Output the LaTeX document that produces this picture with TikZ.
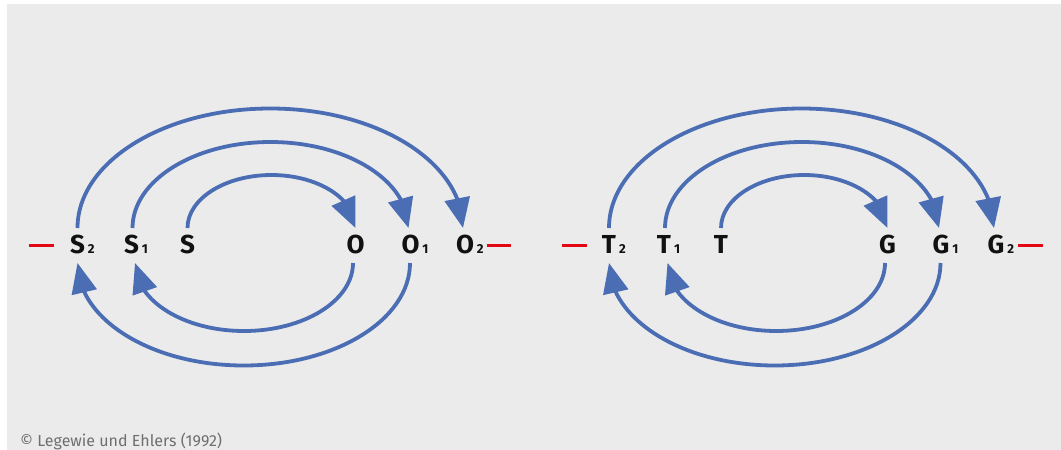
\documentclass[tikz,border=0pt]{standalone}
\usepackage{fontspec}
\setmainfont{Fira Sans}
\usetikzlibrary{arrows.meta,bending,calc}
\definecolor{bg}{HTML}{EBEBEB}
\definecolor{flowblue}{HTML}{4A6DB4}
\definecolor{dashred}{HTML}{E30613}
\definecolor{captiongray}{HTML}{6F6F6F}
\definecolor{lettercol}{HTML}{111111}
\newcommand\subidx[1]{\rlap{\kern3pt\fontsize{13}{13}\selectfont\bfseries #1}}
\tikzset{
  letter/.style={inner sep=0pt, anchor=base, font=\fontsize{26}{26}\selectfont\bfseries, text=lettercol},
  flow/.style={draw=flowblue, line width=3.8pt, -{Triangle[length=30pt,width=25pt,flex]}},
  reddash/.style={draw=dashred, line width=3pt},
}
% #1=X2 #2=X1 #3=X #4=Y #5=Y1 #6=Y2
\newcommand\loopset[6]{%
  \draw[flow] let \p1=(#1.north), \p2=(#6.north) in
    (\x1,-228pt) arc[start angle=180,end angle=0,x radius={(\x2-\x1-2pt)/2},y radius=119.5pt];
  \draw[flow] let \p1=(#2.north), \p2=(#5.north) in
    (\x1+1pt,-228pt) arc[start angle=180,end angle=0,x radius={(\x2-\x1-3pt)/2},y radius=86pt];
  \draw[flow] let \p1=(#3.north), \p2=(#4.north) in
    (\x1,-228pt) arc[start angle=180,end angle=0,x radius={(\x2-\x1)/2},y radius=53pt];
  \draw[flow] let \p1=(#4.south), \p2=(#2.south) in
    (\x1-2.5pt,-263pt) arc[start angle=0,end angle=-180,x radius={(\x1-\x2-6pt)/2},y radius=68pt];
  \draw[flow] let \p1=(#5.south), \p2=(#1.south) in
    (\x1-0.5pt,-263pt) arc[start angle=0,end angle=-180,x radius={(\x1-\x2-0.5pt)/2},y radius=102.5pt];
}
\begin{document}
\begin{tikzpicture}[x=1pt,y=1pt]
\useasboundingbox (0,0) rectangle (1061,-450);
\fill[bg] (7,-4) rectangle (1061,-450);

% left group
\node[letter] (S2) at (77.5,-253) {S\subidx{2}};
\node[letter] (S1) at (131.5,-253) {S\subidx{1}};
\node[letter] (S)  at (187.5,-253) {S};
\node[letter] (O)  at (355.5,-253) {O};
\node[letter] (O1) at (410.5,-253) {O\subidx{1}};
\node[letter] (O2) at (465,-253) {O\subidx{2}};
\draw[reddash] (29,-245) -- (54,-245);
\draw[reddash] (487,-245) -- (511,-245);
\loopset{S2}{S1}{S}{O}{O1}{O2}

% right group
\node[letter] (T2) at (609,-253) {T\subidx{2}};
\node[letter] (T1) at (664,-253) {T\subidx{1}};
\node[letter] (T)  at (721,-253) {T};
\node[letter] (G)  at (887.5,-253) {G};
\node[letter] (G1) at (941,-253) {G\subidx{1}};
\node[letter] (G2) at (996,-253) {G\subidx{2}};
\draw[reddash] (562,-245) -- (587,-245);
\draw[reddash] (1018,-245) -- (1043,-245);
\loopset{T2}{T1}{T}{G}{G1}{G2}

\node[anchor=base west, inner sep=0pt, font=\fontsize{16}{16}\selectfont, text=captiongray] (cap) at (20,-446) {© Legewie und Ehlers (1992)};
\end{tikzpicture}
\end{document}
